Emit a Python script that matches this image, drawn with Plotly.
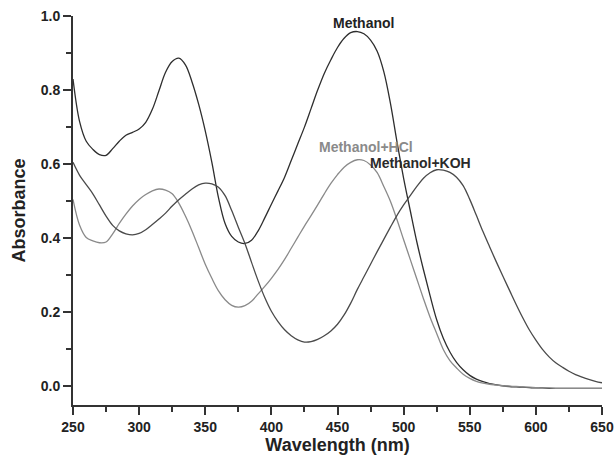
import plotly.graph_objects as go

wavelength = [250, 255, 260, 265, 270, 275, 280, 285, 290, 295, 300, 305, 310, 315, 320, 325, 330, 335, 340, 345,
              350, 355, 360, 365, 370, 375, 380, 385, 390, 395, 400, 405, 410, 415, 420, 425, 430, 435, 440, 445,
              450, 455, 460, 465, 470, 475, 480, 485, 490, 495, 500, 505, 510, 515, 520, 525, 530, 535, 540, 545,
              550, 555, 560, 565, 570, 575, 580, 585, 590, 595, 600, 605, 610, 615, 620, 625, 630, 635, 640, 645, 650]

methanol = [0.830, 0.715, 0.662, 0.640, 0.626, 0.624, 0.642, 0.662, 0.678, 0.686, 0.695, 0.713, 0.748, 0.798, 0.848, 0.877, 0.886, 0.868, 0.822, 0.762,
            0.690, 0.605, 0.510, 0.440, 0.405, 0.390, 0.386, 0.395, 0.420, 0.455, 0.492, 0.528, 0.565, 0.610, 0.655, 0.700, 0.750, 0.800, 0.845, 0.882,
            0.915, 0.940, 0.955, 0.958, 0.952, 0.935, 0.905, 0.850, 0.765, 0.660, 0.562, 0.475, 0.390, 0.315, 0.245, 0.180, 0.130, 0.093, 0.065, 0.045,
            0.030, 0.020, 0.013, 0.008, 0.005, 0.002, 0.000, -0.001, -0.002, -0.003, -0.004, -0.004, -0.005, -0.005, -0.005, -0.005, -0.005, -0.005, -0.005, -0.005, -0.005]

methanol_hcl = [0.505, 0.435, 0.402, 0.393, 0.388, 0.390, 0.412, 0.440, 0.465, 0.487, 0.505, 0.518, 0.528, 0.533, 0.530, 0.520, 0.495, 0.460, 0.420, 0.375,
                0.330, 0.292, 0.258, 0.234, 0.219, 0.214, 0.218, 0.230, 0.250, 0.270, 0.292, 0.316, 0.343, 0.373, 0.403, 0.433, 0.461, 0.490, 0.520, 0.548,
                0.572, 0.592, 0.605, 0.612, 0.610, 0.598, 0.577, 0.540, 0.500, 0.450, 0.396, 0.343, 0.290, 0.237, 0.187, 0.143, 0.100, 0.070, 0.050, 0.033,
                0.022, 0.014, 0.009, 0.006, 0.004, 0.002, 0.001, 0.000, -0.001, -0.002, -0.003, -0.004, -0.004, -0.005, -0.005, -0.005, -0.005, -0.005, -0.005, -0.005, -0.005]

methanol_koh = [0.605, 0.570, 0.545, 0.520, 0.490, 0.460, 0.435, 0.420, 0.412, 0.409, 0.413, 0.423, 0.437, 0.452, 0.468, 0.487, 0.504, 0.519, 0.533, 0.544,
                0.549, 0.547, 0.538, 0.515, 0.475, 0.430, 0.386, 0.335, 0.285, 0.240, 0.203, 0.175, 0.153, 0.137, 0.126, 0.120, 0.121, 0.127, 0.137, 0.150,
                0.168, 0.193, 0.225, 0.262, 0.296, 0.330, 0.364, 0.397, 0.430, 0.462, 0.490, 0.515, 0.540, 0.562, 0.577, 0.585, 0.584, 0.578, 0.565, 0.542,
                0.505, 0.462, 0.418, 0.377, 0.337, 0.298, 0.260, 0.222, 0.186, 0.153, 0.125, 0.100, 0.080, 0.064, 0.052, 0.041, 0.032, 0.025, 0.019, 0.014, 0.010]

series_names = ["Methanol", "Methanol+HCl", "Methanol+KOH"]
colors = ["#2e2e2e", "#8a8a8a", "#4a4a4a"]

x_ticks = [250, 300, 350, 400, 450, 500, 550, 600, 650]
y_ticks = [0.0, 0.2, 0.4, 0.6, 0.8, 1.0]

fig = go.Figure()
for name, vals, col in zip(series_names, [methanol, methanol_hcl, methanol_koh], colors):
    fig.add_trace(go.Scatter(x=wavelength, y=vals, mode="lines", name=name,
                             line=dict(color=col, width=1.3, shape="spline", smoothing=1.0)))

label_font = dict(family="Liberation Sans, Arial, sans-serif", size=14, weight="bold")
fig.add_annotation(x=469.5, y=0.982, text="Methanol", showarrow=False,
                   font=dict(label_font, color="#222222"))
fig.add_annotation(x=471.7, y=0.647, text="Methanol+HCl", showarrow=False,
                   font=dict(label_font, color="#8a8a8a"))
fig.add_annotation(x=512.6, y=0.604, text="Methanol+KOH", showarrow=False,
                   font=dict(label_font, color="#2a2a2a"))

axis_font = dict(family="Liberation Sans, Arial, sans-serif", size=14, color="#222222", weight="bold")
title_font = dict(family="Liberation Sans, Arial, sans-serif", size=18, color="#222222", weight="bold")

fig.update_layout(
    width=616, height=457,
    margin=dict(l=73, r=14, t=16, b=52),
    plot_bgcolor="white", paper_bgcolor="white",
    showlegend=False,
    xaxis=dict(range=[250, 650], tickvals=x_ticks, ticks="outside", ticklen=8, tickwidth=1.5,
               tickcolor="#333333", showline=True, linecolor="#333333", linewidth=2,
               showgrid=False, zeroline=False, tickfont=axis_font, automargin=False,
               ticklabeloverflow="allow",
               minor=dict(dtick=25, tick0=250, ticks="outside", ticklen=5, tickwidth=1.5, tickcolor="#333333"),
               title=dict(text="Wavelength (nm)", font=title_font, standoff=4)),
    yaxis=dict(range=[-0.05, 1.0], tickvals=y_ticks, tickformat=".1f", ticks="outside", ticklen=8, tickwidth=1.5,
               tickcolor="#333333", showline=True, linecolor="#333333", linewidth=2,
               showgrid=False, zeroline=False, tickfont=axis_font, automargin=False,
               ticklabeloverflow="allow",
               minor=dict(dtick=0.1, tick0=0, ticks="outside", ticklen=5, tickwidth=1.5, tickcolor="#333333"),
               title=dict(text="Absorbance", font=title_font, standoff=10)),
)

fig.write_html("out.html", config={"displayModeBar": False},
               post_script="document.body.style.margin='0';document.body.style.overflow='hidden';")
